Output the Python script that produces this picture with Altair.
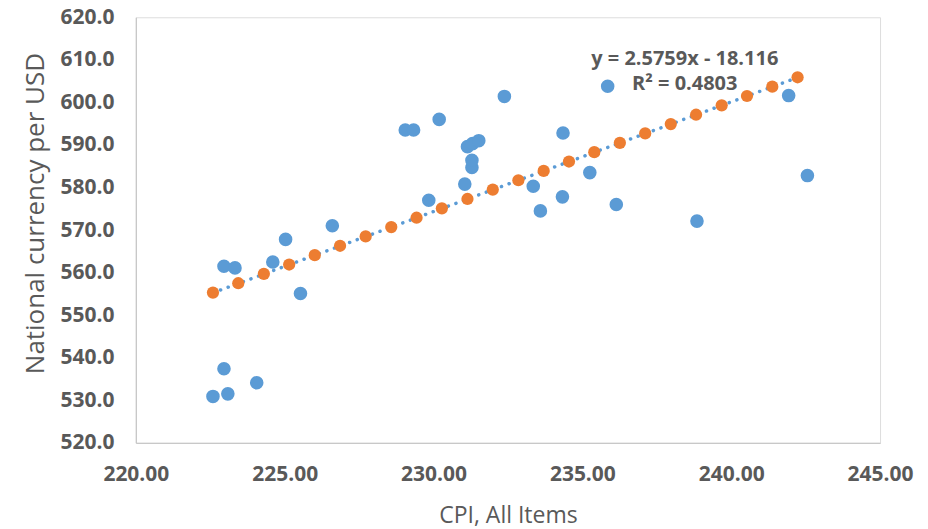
import altair as alt
import pandas as pd

# Observed data (blue)
cpi = [222.59, 223.09, 222.96, 224.06, 222.96, 223.33, 224.60, 225.03, 225.53, 226.60,
       229.84, 231.05, 231.29, 231.29, 231.14, 231.31, 231.52, 229.05, 229.33, 230.19,
       232.38, 233.35, 233.59, 234.33, 234.35, 235.25, 236.14, 235.85, 238.85, 241.93,
       242.56]
fx = [530.9, 531.5, 537.4, 534.1, 561.5, 561.1, 562.5, 567.8, 555.1, 571.0,
      577.0, 580.8, 584.7, 586.4, 589.6, 590.3, 591.0, 593.5, 593.5, 596.0,
      601.4, 580.3, 574.5, 577.8, 592.8, 583.5, 576.0, 603.8, 572.1, 601.6,
      582.8]

# Predicted series (orange)
pred_x = [222.59, 223.44, 224.30, 225.15, 226.01, 226.86, 227.72, 228.58, 229.43, 230.28,
          231.14, 231.99, 232.85, 233.70, 234.55, 235.40, 236.26, 237.11, 237.97, 238.82,
          239.68, 240.53, 241.38, 242.23]
pred_y = [555.3, 557.5, 559.7, 561.9, 564.1, 566.3, 568.5, 570.7, 572.9, 575.1,
          577.3, 579.5, 581.7, 583.9, 586.1, 588.3, 590.5, 592.7, 594.9, 597.1,
          599.3, 601.5, 603.7, 605.9]

# Trendline end points
trend_x = [222.59, 242.23]
trend_y = [555.25, 605.85]

# Annotation
ann_text = ["y = 2.5759x - 18.116", "R\u00b2 = 0.4803"]
ann_x = [238.44, 238.44]
ann_y = [610.3, 604.3]

x_ticks = [220, 225, 230, 235, 240, 245]
y_ticks = [520, 530, 540, 550, 560, 570, 580, 590, 600, 610, 620]

BLUE = "#5B9BD5"
ORANGE = "#ED7D31"
TEXT = "#595959"
FONT = "Open Sans"

obs = pd.DataFrame({"x": cpi, "y": fx})
pred = pd.DataFrame({"x": pred_x, "y": pred_y})
trend = pd.DataFrame({"x": trend_x, "y": trend_y})
ann = pd.DataFrame({"t": ann_text, "x": ann_x, "y": ann_y})

xscale = alt.Scale(domain=[220, 245], nice=False, zero=False)
yscale = alt.Scale(domain=[520, 620], nice=False, zero=False)

xaxis = alt.Axis(title="CPI, All Items", values=x_ticks, format=".2f", grid=False,
                 ticks=False, domainColor="#C8C8C8", domainWidth=1.3,
                 labelFont=FONT, labelFontSize=21, labelFontWeight="bold", labelColor=TEXT,
                 labelPadding=21, labelFlush=False, labelOverlap=False,
                 titleFont=FONT, titleFontSize=23, titleFontWeight="normal", titleColor=TEXT,
                 titlePadding=20)
yaxis = alt.Axis(title="National currency per USD", values=y_ticks, format=".1f", grid=False,
                 ticks=False, domainColor="#C8C8C8", domainWidth=1.3,
                 labelFont=FONT, labelFontSize=21, labelFontWeight="bold", labelColor=TEXT,
                 labelPadding=22, labelFlush=False, labelOverlap=False,
                 titleFont=FONT, titleFontSize=26, titleFontWeight="normal", titleColor=TEXT,
                 titleX=-100, titleY=196, titleBaseline="middle", titleAngle=270)

pts = alt.Chart(obs).mark_circle(size=185, color=BLUE, opacity=1).encode(
    x=alt.X("x:Q", scale=xscale, axis=xaxis),
    y=alt.Y("y:Q", scale=yscale, axis=yaxis),
)

line = alt.Chart(trend).mark_line(color=BLUE, strokeWidth=3.5, strokeDash=[0.1, 8],
                                  strokeCap="round").encode(
    x=alt.X("x:Q", scale=xscale),
    y=alt.Y("y:Q", scale=yscale),
)

opts = alt.Chart(pred).mark_circle(size=150, color=ORANGE, opacity=1).encode(
    x=alt.X("x:Q", scale=xscale),
    y=alt.Y("y:Q", scale=yscale),
)

txt = alt.Chart(ann).mark_text(font=FONT, fontSize=20, fontWeight="bold", color=TEXT,
                               align="center", baseline="middle").encode(
    x=alt.X("x:Q", scale=xscale),
    y=alt.Y("y:Q", scale=yscale),
    text="t:N",
)

chart = alt.layer(pts, line, opts, txt).properties(
    width=745, height=426,
    autosize=alt.AutoSizeParams(type="none"),
    padding={"left": 128, "top": 9, "right": 40, "bottom": 86},
).configure_view(stroke=None).configure(background="white")

chart.save("out.html", embed_options={"renderer": "svg", "actions": False})
